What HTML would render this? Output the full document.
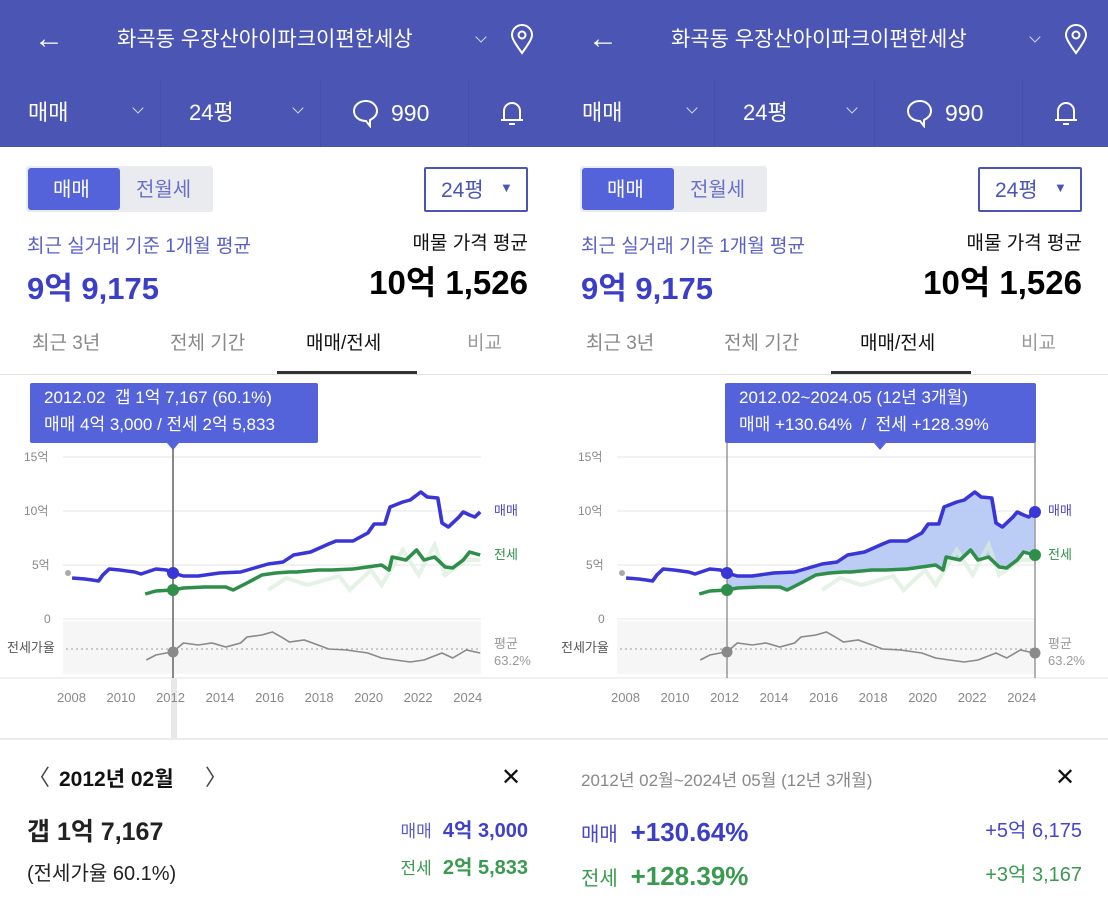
<!DOCTYPE html>
<html><head><meta charset="utf-8"><style>
*{margin:0;padding:0;box-sizing:border-box}
body{width:1108px;height:902px;position:relative;overflow:hidden;background:#fff;font-family:"Liberation Sans","Noto Sans CJK KR",sans-serif}
.p{position:absolute;top:0;width:554px;height:902px;overflow:hidden}
.t{position:absolute;white-space:nowrap;line-height:1}
.hd{position:absolute;left:0;top:0;width:554px;height:147px;background:#4b55b4}
.vd{position:absolute;top:80px;width:1px;height:67px;background:#4350a8}
.cv{position:absolute;width:8px;height:8px;border-right:1.5px solid #d6d8f2;border-bottom:1.5px solid #d6d8f2;transform:rotate(45deg)}
</style></head><body>

<svg width="0" height="0" style="position:absolute">
<defs>
<polyline id="mm" fill="none" stroke="#3a35d6" stroke-width="3.5" stroke-linejoin="round" points="68,578 80,579 87,580 93,581 97,575 100,572 103,569 113,570 127,572 133,574 147,569 157,570 163,573 173,576 187,576 207,573 227,572 240,568 253,564 267,562 277,555 293,552 310,544 317,541 333,541 347,533 353,524 363,524 368,507 380,502 387,500 397,492 403,497 413,498 417,523 423,527 433,517 437,512 443,515 448,517 453,512"/>
<polyline id="js" fill="none" stroke="#2f8f4a" stroke-width="3.5" stroke-linejoin="round" points="137,594 147,591 163,590 173,588 193,587 213,587 220,590 233,583 247,575 260,573 273,572 280,572 300,570 313,570 333,569 360,565 367,570 370,557 383,560 393,550 400,560 410,557 420,567 427,568 437,560 443,552 453,555"/>
<polyline id="jsb" fill="none" stroke="#d9eedc" stroke-width="4" opacity=".7" points="253,590 270,578 290,585 320,576 330,590 350,570 360,585 380,550 395,575 410,545 420,575 440,560 453,560"/>
<polyline id="rt" fill="none" stroke="#8a8a8a" stroke-width="1.6" points="138,660 147,655 157,653 163,652 173,643 187,645 200,643 213,647 227,643 233,637 247,635 257,632 267,638 273,642 287,640 300,645 310,649 327,650 347,653 360,658 373,660 387,662 400,660 417,653 427,658 440,650 453,653"/>
<g id="axes">
<rect x="63" y="621" width="418" height="53" fill="#f6f6f6"/>
<g stroke="#e6e6e6" stroke-width="1"><line x1="63" y1="457" x2="481" y2="457"/><line x1="63" y1="511" x2="481" y2="511"/><line x1="63" y1="565" x2="481" y2="565"/><line x1="63" y1="619" x2="481" y2="619"/></g>
<line x1="0" y1="678" x2="554" y2="678" stroke="#e3e3e3"/>
<line x1="66" y1="649" x2="481" y2="649" stroke="#999" stroke-dasharray="2,3"/>
<circle cx="68" cy="573" r="3" fill="#aaa"/>
</g>
</defs></svg>

<!-- LEFT PANEL -->
<div class="p" style="left:0">
<div class="hd"></div>
<div class="t" style="left:34px;top:24px;color:#fff;font-size:30px">&#8592;</div>
<div class="t" style="left:117px;top:29px;color:#fff;font-size:21px">화곡동 우장산아이파크이편한세상</div>
<div class="cv" style="left:477px;top:33px"></div>
<svg class="t" style="left:508px;top:24px" width="28" height="32"><path d="M14 29C6 18 4 14 4 11a10 10 0 0 1 20 0c0 3-2 7-10 18z" fill="none" stroke="#fff" stroke-width="2"/><circle cx="14" cy="11" r="3.5" fill="none" stroke="#fff" stroke-width="2"/></svg>
<div class="vd" style="left:160px"></div><div class="vd" style="left:320px"></div><div class="vd" style="left:468px"></div>
<div class="t" style="left:28px;top:102px;color:#fff;font-size:22px">매매</div>
<div class="cv" style="left:134px;top:104px"></div>
<div class="t" style="left:189px;top:102px;color:#fff;font-size:22px">24평</div>
<div class="cv" style="left:294px;top:104px"></div>
<svg class="t" style="left:351px;top:98px" width="30" height="30"><path d="M15 3C8 3 3 7.5 3 13s5 10 12 10l4 5v-6c4-2 7-5 7-9 0-5.5-5-10-11-10z" fill="none" stroke="#fff" stroke-width="2"/></svg>
<div class="t" style="left:391px;top:102px;color:#fff;font-size:23px">990</div>
<svg class="t" style="left:498px;top:98px" width="28" height="30"><path d="M6 22V13a8 8 0 0 1 16 0v9zM3 22h22M11 26h6" fill="none" stroke="#fff" stroke-width="2"/></svg>

<div style="position:absolute;left:26px;top:166px;width:187px;height:46px;background:#eaebef;border-radius:3px"></div>
<div style="position:absolute;left:28px;top:168px;width:92px;height:42px;background:#5563da;border-radius:3px"></div>
<div class="t" style="left:53px;top:180px;color:#fff;font-size:20px">매매</div>
<div class="t" style="left:136px;top:180px;color:#6a70c8;font-size:20px">전월세</div>
<div style="position:absolute;left:424px;top:167px;width:104px;height:45px;border:2px solid #4a55b5;border-radius:2px"></div>
<div class="t" style="left:441px;top:180px;color:#4a55b5;font-size:21px">24평</div>
<div class="t" style="left:500px;top:181px;color:#4a55b5;font-size:13px">&#9660;</div>
<div class="t" style="left:27px;top:237px;color:#5a5fc4;font-size:19px">최근 실거래 기준 1개월 평균</div>
<div class="t" style="left:27px;top:273px;color:#3b3fc7;font-size:31px;font-weight:bold">9억 9,175</div>
<div class="t" style="right:26px;top:234px;color:#111;font-size:19px">매물 가격 평균</div>
<div class="t" style="right:26px;top:266px;color:#000;font-size:33px;font-weight:bold">10억 1,526</div>
<div class="t" style="left:32px;top:334px;color:#888;font-size:19px">최근 3년</div>
<div class="t" style="left:170px;top:334px;color:#888;font-size:19px">전체 기간</div>
<div class="t" style="left:306px;top:334px;color:#111;font-size:19px">매매/전세</div>
<div class="t" style="left:467px;top:334px;color:#999;font-size:19px">비교</div>
<div style="position:absolute;left:0;top:374px;width:554px;height:1px;background:#e2e2e2"></div>
<div style="position:absolute;left:277px;top:371px;width:140px;height:3px;background:#333"></div>

<svg style="position:absolute;left:0;top:0" width="554" height="760">
<use href="#axes"/>
<rect x="171" y="678" width="6" height="62" fill="#e8e8e8"/>
<g transform="scale(1.06,1)"><use href="#jsb"/><use href="#js"/><use href="#mm"/><use href="#rt"/></g>
<line x1="173" y1="440" x2="173" y2="678" stroke="#888" stroke-width="2"/>
<circle cx="173" cy="573" r="6" fill="#3a35d6"/><circle cx="173" cy="590" r="6" fill="#2f8f4a"/><circle cx="173" cy="652" r="5.5" fill="#8a8a8a"/>
<rect x="30" y="383" width="288" height="60" rx="2" fill="#5563da"/>
<path d="M167 443h12l-6 7z" fill="#5563da"/>
</svg>
<div class="t" style="left:44px;top:389px;color:#fff;font-size:17px">2012.02&nbsp; 갭 1억 7,167 (60.1%)</div>
<div class="t" style="left:44px;top:416px;color:#fff;font-size:17px">매매 4억 3,000 / 전세 2억 5,833</div>
<div class="t" style="left:24px;top:451px;color:#888;font-size:12px">15억</div>
<div class="t" style="left:24px;top:505px;color:#888;font-size:12px">10억</div>
<div class="t" style="left:32px;top:559px;color:#888;font-size:12px">5억</div>
<div class="t" style="left:44px;top:613px;color:#888;font-size:12px">0</div>
<div class="t" style="left:7px;top:641px;color:#555;font-size:13px">전세가율</div>
<div class="t" style="left:494px;top:504px;color:#4a45c8;font-size:13px">매매</div>
<div class="t" style="left:494px;top:548px;color:#2f8f4a;font-size:13px">전세</div>
<div class="t" style="left:494px;top:637px;color:#999;font-size:13px">평균</div>
<div class="t" style="left:494px;top:654px;color:#999;font-size:13px">63.2%</div>
<div class="t" style="left:57px;top:691px;color:#888;font-size:13px;word-spacing:17px">2008 2010 2012 2014 2016 2018 2020 2022 2024</div>

<div style="position:absolute;left:0;top:738px;width:554px;height:2px;background:#ececec"></div>
<div class="t" style="left:28px;top:767px;color:#444;font-size:22px">〈</div>
<div class="t" style="left:59px;top:769px;color:#111;font-size:21px;font-weight:bold">2012년 02월</div>
<div class="t" style="left:205px;top:767px;color:#444;font-size:22px">〉</div>
<div class="t" style="left:501px;top:766px;color:#111;font-size:24px">✕</div>
<div class="t" style="left:27px;top:820px;color:#222;font-size:25px;font-weight:bold">갭 1억 7,167</div>
<div class="t" style="left:27px;top:864px;color:#222;font-size:20px">(전세가율 60.1%)</div>
<div class="t" style="right:26px;top:821px;color:#4040c8;font-size:20px;font-weight:bold"><span style="font-size:17px;color:#5a5fc4;font-weight:normal">매매</span>&nbsp; 4억 3,000</div>
<div class="t" style="right:26px;top:858px;color:#3a9a4f;font-size:20px;font-weight:bold"><span style="font-size:17px;font-weight:normal">전세</span>&nbsp; 2억 5,833</div>
</div>

<!-- RIGHT PANEL -->
<div class="p" style="left:554px">
<div class="hd"></div>
<div class="t" style="left:34px;top:24px;color:#fff;font-size:30px">&#8592;</div>
<div class="t" style="left:117px;top:29px;color:#fff;font-size:21px">화곡동 우장산아이파크이편한세상</div>
<div class="cv" style="left:477px;top:33px"></div>
<svg class="t" style="left:508px;top:24px" width="28" height="32"><path d="M14 29C6 18 4 14 4 11a10 10 0 0 1 20 0c0 3-2 7-10 18z" fill="none" stroke="#fff" stroke-width="2"/><circle cx="14" cy="11" r="3.5" fill="none" stroke="#fff" stroke-width="2"/></svg>
<div class="vd" style="left:160px"></div><div class="vd" style="left:320px"></div><div class="vd" style="left:468px"></div>
<div class="t" style="left:28px;top:102px;color:#fff;font-size:22px">매매</div>
<div class="cv" style="left:134px;top:104px"></div>
<div class="t" style="left:189px;top:102px;color:#fff;font-size:22px">24평</div>
<div class="cv" style="left:294px;top:104px"></div>
<svg class="t" style="left:351px;top:98px" width="30" height="30"><path d="M15 3C8 3 3 7.5 3 13s5 10 12 10l4 5v-6c4-2 7-5 7-9 0-5.5-5-10-11-10z" fill="none" stroke="#fff" stroke-width="2"/></svg>
<div class="t" style="left:391px;top:102px;color:#fff;font-size:23px">990</div>
<svg class="t" style="left:498px;top:98px" width="28" height="30"><path d="M6 22V13a8 8 0 0 1 16 0v9zM3 22h22M11 26h6" fill="none" stroke="#fff" stroke-width="2"/></svg>

<div style="position:absolute;left:26px;top:166px;width:187px;height:46px;background:#eaebef;border-radius:3px"></div>
<div style="position:absolute;left:28px;top:168px;width:92px;height:42px;background:#5563da;border-radius:3px"></div>
<div class="t" style="left:53px;top:180px;color:#fff;font-size:20px">매매</div>
<div class="t" style="left:136px;top:180px;color:#6a70c8;font-size:20px">전월세</div>
<div style="position:absolute;left:424px;top:167px;width:104px;height:45px;border:2px solid #4a55b5;border-radius:2px"></div>
<div class="t" style="left:441px;top:180px;color:#4a55b5;font-size:21px">24평</div>
<div class="t" style="left:500px;top:181px;color:#4a55b5;font-size:13px">&#9660;</div>
<div class="t" style="left:27px;top:237px;color:#5a5fc4;font-size:19px">최근 실거래 기준 1개월 평균</div>
<div class="t" style="left:27px;top:273px;color:#3b3fc7;font-size:31px;font-weight:bold">9억 9,175</div>
<div class="t" style="right:26px;top:234px;color:#111;font-size:19px">매물 가격 평균</div>
<div class="t" style="right:26px;top:266px;color:#000;font-size:33px;font-weight:bold">10억 1,526</div>
<div class="t" style="left:32px;top:334px;color:#888;font-size:19px">최근 3년</div>
<div class="t" style="left:170px;top:334px;color:#888;font-size:19px">전체 기간</div>
<div class="t" style="left:306px;top:334px;color:#111;font-size:19px">매매/전세</div>
<div class="t" style="left:467px;top:334px;color:#999;font-size:19px">비교</div>
<div style="position:absolute;left:0;top:374px;width:554px;height:1px;background:#e2e2e2"></div>
<div style="position:absolute;left:277px;top:371px;width:140px;height:3px;background:#333"></div>

<svg style="position:absolute;left:0;top:0" width="554" height="760">
<use href="#axes"/>
<g transform="scale(1.06,1)">
<polygon fill="#b4c8f4" opacity=".9" points="163,573 173,576 187,576 207,573 227,572 240,568 253,564 267,562 277,555 293,552 310,544 317,541 333,541 347,533 353,524 363,524 368,507 380,502 387,500 397,492 403,497 413,498 417,523 423,527 433,517 437,512 443,515 448,517 453,512 453,555 443,552 437,560 427,568 420,567 410,557 400,560 393,550 383,560 370,557 367,570 360,565 333,569 313,570 300,570 280,572 273,572 260,573 247,575 233,583 220,590 213,587 193,587 173,588 163,590"/>
<use href="#jsb"/><use href="#js"/><use href="#mm"/><use href="#rt"/></g>
<line x1="173" y1="440" x2="173" y2="678" stroke="#666" stroke-width="1"/>
<line x1="481" y1="440" x2="481" y2="678" stroke="#666" stroke-width="1"/>
<circle cx="173" cy="573" r="6" fill="#3a35d6"/><circle cx="173" cy="590" r="6" fill="#2f8f4a"/><circle cx="173" cy="652" r="5.5" fill="#8a8a8a"/>
<circle cx="481" cy="512" r="6" fill="#3a35d6"/><circle cx="481" cy="555" r="6" fill="#2f8f4a"/><circle cx="481" cy="653" r="5.5" fill="#8a8a8a"/>
<rect x="171" y="383" width="311" height="60" rx="2" fill="#5563da"/>
<path d="M320 443h12l-6 7z" fill="#5563da"/>
</svg>
<div class="t" style="left:185px;top:389px;color:#fff;font-size:17px">2012.02~2024.05 (12년 3개월)</div>
<div class="t" style="left:185px;top:416px;color:#fff;font-size:17px">매매 +130.64% &nbsp;/&nbsp; 전세 +128.39%</div>
<div class="t" style="left:24px;top:451px;color:#888;font-size:12px">15억</div>
<div class="t" style="left:24px;top:505px;color:#888;font-size:12px">10억</div>
<div class="t" style="left:32px;top:559px;color:#888;font-size:12px">5억</div>
<div class="t" style="left:44px;top:613px;color:#888;font-size:12px">0</div>
<div class="t" style="left:7px;top:641px;color:#555;font-size:13px">전세가율</div>
<div class="t" style="left:494px;top:504px;color:#4a45c8;font-size:13px">매매</div>
<div class="t" style="left:494px;top:548px;color:#2f8f4a;font-size:13px">전세</div>
<div class="t" style="left:494px;top:637px;color:#999;font-size:13px">평균</div>
<div class="t" style="left:494px;top:654px;color:#999;font-size:13px">63.2%</div>
<div class="t" style="left:57px;top:691px;color:#888;font-size:13px;word-spacing:17px">2008 2010 2012 2014 2016 2018 2020 2022 2024</div>

<div style="position:absolute;left:0;top:738px;width:554px;height:2px;background:#ececec"></div>
<div class="t" style="left:27px;top:772px;color:#888;font-size:17px">2012년 02월~2024년 05월 (12년 3개월)</div>
<div class="t" style="left:501px;top:766px;color:#111;font-size:24px">✕</div>
<div class="t" style="left:27px;top:819px;color:#4a45c8;font-size:20px">매매 <b style="font-size:26px;color:#3b3fc7">&nbsp;+130.64%</b></div>
<div class="t" style="left:27px;top:863px;color:#3a9a4f;font-size:20px">전세 <b style="font-size:26px">&nbsp;+128.39%</b></div>
<div class="t" style="right:26px;top:821px;color:#4a45c8;font-size:20px">+5억 6,175</div>
<div class="t" style="right:26px;top:865px;color:#3a9a4f;font-size:20px">+3억 3,167</div>
</div>
</body></html>
